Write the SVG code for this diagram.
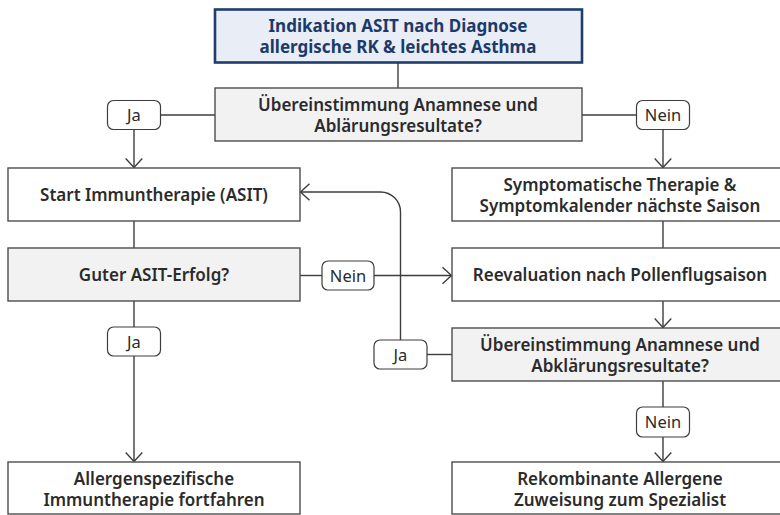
<svg xmlns="http://www.w3.org/2000/svg" width="780" height="515" viewBox="0 0 780 515">
<defs>
<style>
.box{fill:#ffffff;stroke:#4d4d4d;stroke-width:1.4}
.dec{fill:#f2f2f3;stroke:#4d4d4d;stroke-width:1.4}
.start{fill:#e9eef6;stroke:#1f3d6e;stroke-width:2.6}
.lbl{fill:#ffffff;stroke:#3d3d3d;stroke-width:1.2}
.t{font-family:"Noto Sans","Open Sans",sans-serif;font-size:17px;font-weight:600;fill:#2b2b2b;text-anchor:middle}
.ts{font-family:"Noto Sans","Open Sans",sans-serif;font-size:17px;font-weight:700;fill:#1b3a6b;text-anchor:middle}
.tl{font-family:"Noto Sans","Open Sans",sans-serif;font-size:16.5px;font-weight:400;fill:#2b2b2b;text-anchor:middle}
.c{fill:none;stroke:#3d3d3d;stroke-width:1.4}
</style>
<marker id="arr" markerUnits="userSpaceOnUse" markerWidth="20" markerHeight="20" refX="10" refY="10" orient="auto" viewBox="0 0 20 20">
<path d="M1,1.7 L10,10 L1,18.3" fill="none" stroke="#3d3d3d" stroke-width="1.4"/>
</marker>
</defs>

<g id="connectors">
<path class="c" d="M398,63 V88"/>
<path class="c" d="M215,115 H160.5"/>
<path class="c" d="M134,129.5 V167.5" marker-end="url(#arr)"/>
<path class="c" d="M582,115 H636.5"/>
<path class="c" d="M663,129.5 V167.5" marker-end="url(#arr)"/>
<path class="c" d="M134,221 V248"/>
<path class="c" d="M663,221 V248"/>
<path class="c" d="M300,275.5 H322"/>
<path class="c" d="M374,275.5 H451.5" marker-end="url(#arr)"/>
<path class="c" d="M663,301 V327.5" marker-end="url(#arr)"/>
<path class="c" d="M452,354.5 H427"/>
<path class="c" d="M400.5,340 V212 A20,20 0 0 0 380.5,192 H300.5" marker-end="url(#arr)"/>
<path class="c" d="M663,381 V407"/>
<path class="c" d="M663,437 V461.5" marker-end="url(#arr)"/>
<path class="c" d="M134,301 V327"/>
<path class="c" d="M134,356 V461.5" marker-end="url(#arr)"/>
</g>

<g id="n-indikation">
<rect class="start" x="215" y="9.5" width="367" height="53"/>
<text class="ts" x="398" y="32">Indikation ASIT nach Diagnose</text>
<text class="ts" x="398" y="53">allergische RK &amp; leichtes Asthma</text>
</g>

<g id="n-uebereinstimmung1">
<rect class="dec" x="215" y="88" width="367" height="53"/>
<text class="t" x="398" y="111">Übereinstimmung Anamnese und</text>
<text class="t" x="398" y="132">Ablärungsresultate?</text>
</g>

<g id="l-ja1">
<rect class="lbl" x="107.5" y="100.5" width="53" height="29" rx="6"/>
<text class="tl" x="134" y="121">Ja</text>
</g>

<g id="l-nein1">
<rect class="lbl" x="636.5" y="100.5" width="53" height="29" rx="6"/>
<text class="tl" x="663" y="121">Nein</text>
</g>

<g id="n-start">
<rect class="box" x="8" y="168" width="292" height="53"/>
<text class="t" x="154" y="200.5">Start Immuntherapie (ASIT)</text>
</g>

<g id="n-symptomatisch">
<rect class="box" x="452" y="168" width="338" height="53"/>
<text class="t" x="620" y="191">Symptomatische Therapie &amp;</text>
<text class="t" x="620" y="212">Symptomkalender nächste Saison</text>
</g>

<g id="n-guter">
<rect class="dec" x="8" y="248" width="292" height="53"/>
<text class="t" x="154" y="280.5">Guter ASIT-Erfolg?</text>
</g>

<g id="l-nein2">
<rect class="lbl" x="322" y="261" width="52" height="29" rx="6"/>
<text class="tl" x="348" y="281.5">Nein</text>
</g>

<g id="n-reevaluation">
<rect class="box" x="452" y="248" width="338" height="53"/>
<text class="t" x="620" y="280.5">Reevaluation nach Pollenflugsaison</text>
</g>

<g id="n-uebereinstimmung2">
<rect class="dec" x="452" y="328" width="338" height="53"/>
<text class="t" x="620" y="351">Übereinstimmung Anamnese und</text>
<text class="t" x="620" y="372">Abklärungsresultate?</text>
</g>

<g id="l-ja3">
<rect class="lbl" x="374" y="340" width="53" height="29" rx="6"/>
<text class="tl" x="400.5" y="360.5">Ja</text>
</g>

<g id="l-ja2">
<rect class="lbl" x="107.5" y="327" width="53" height="29" rx="6"/>
<text class="tl" x="134" y="347.5">Ja</text>
</g>

<g id="l-nein3">
<rect class="lbl" x="636.5" y="407" width="53" height="30" rx="6"/>
<text class="tl" x="663" y="428">Nein</text>
</g>

<g id="n-allergenspezifisch">
<rect class="box" x="8" y="462" width="292" height="52"/>
<text class="t" x="154" y="485">Allergenspezifische</text>
<text class="t" x="154" y="506">Immuntherapie fortfahren</text>
</g>

<g id="n-rekombinant">
<rect class="box" x="452" y="462" width="338" height="52"/>
<text class="t" x="620" y="485">Rekombinante Allergene</text>
<text class="t" x="620" y="506">Zuweisung zum Spezialist</text>
</g>
</svg>
